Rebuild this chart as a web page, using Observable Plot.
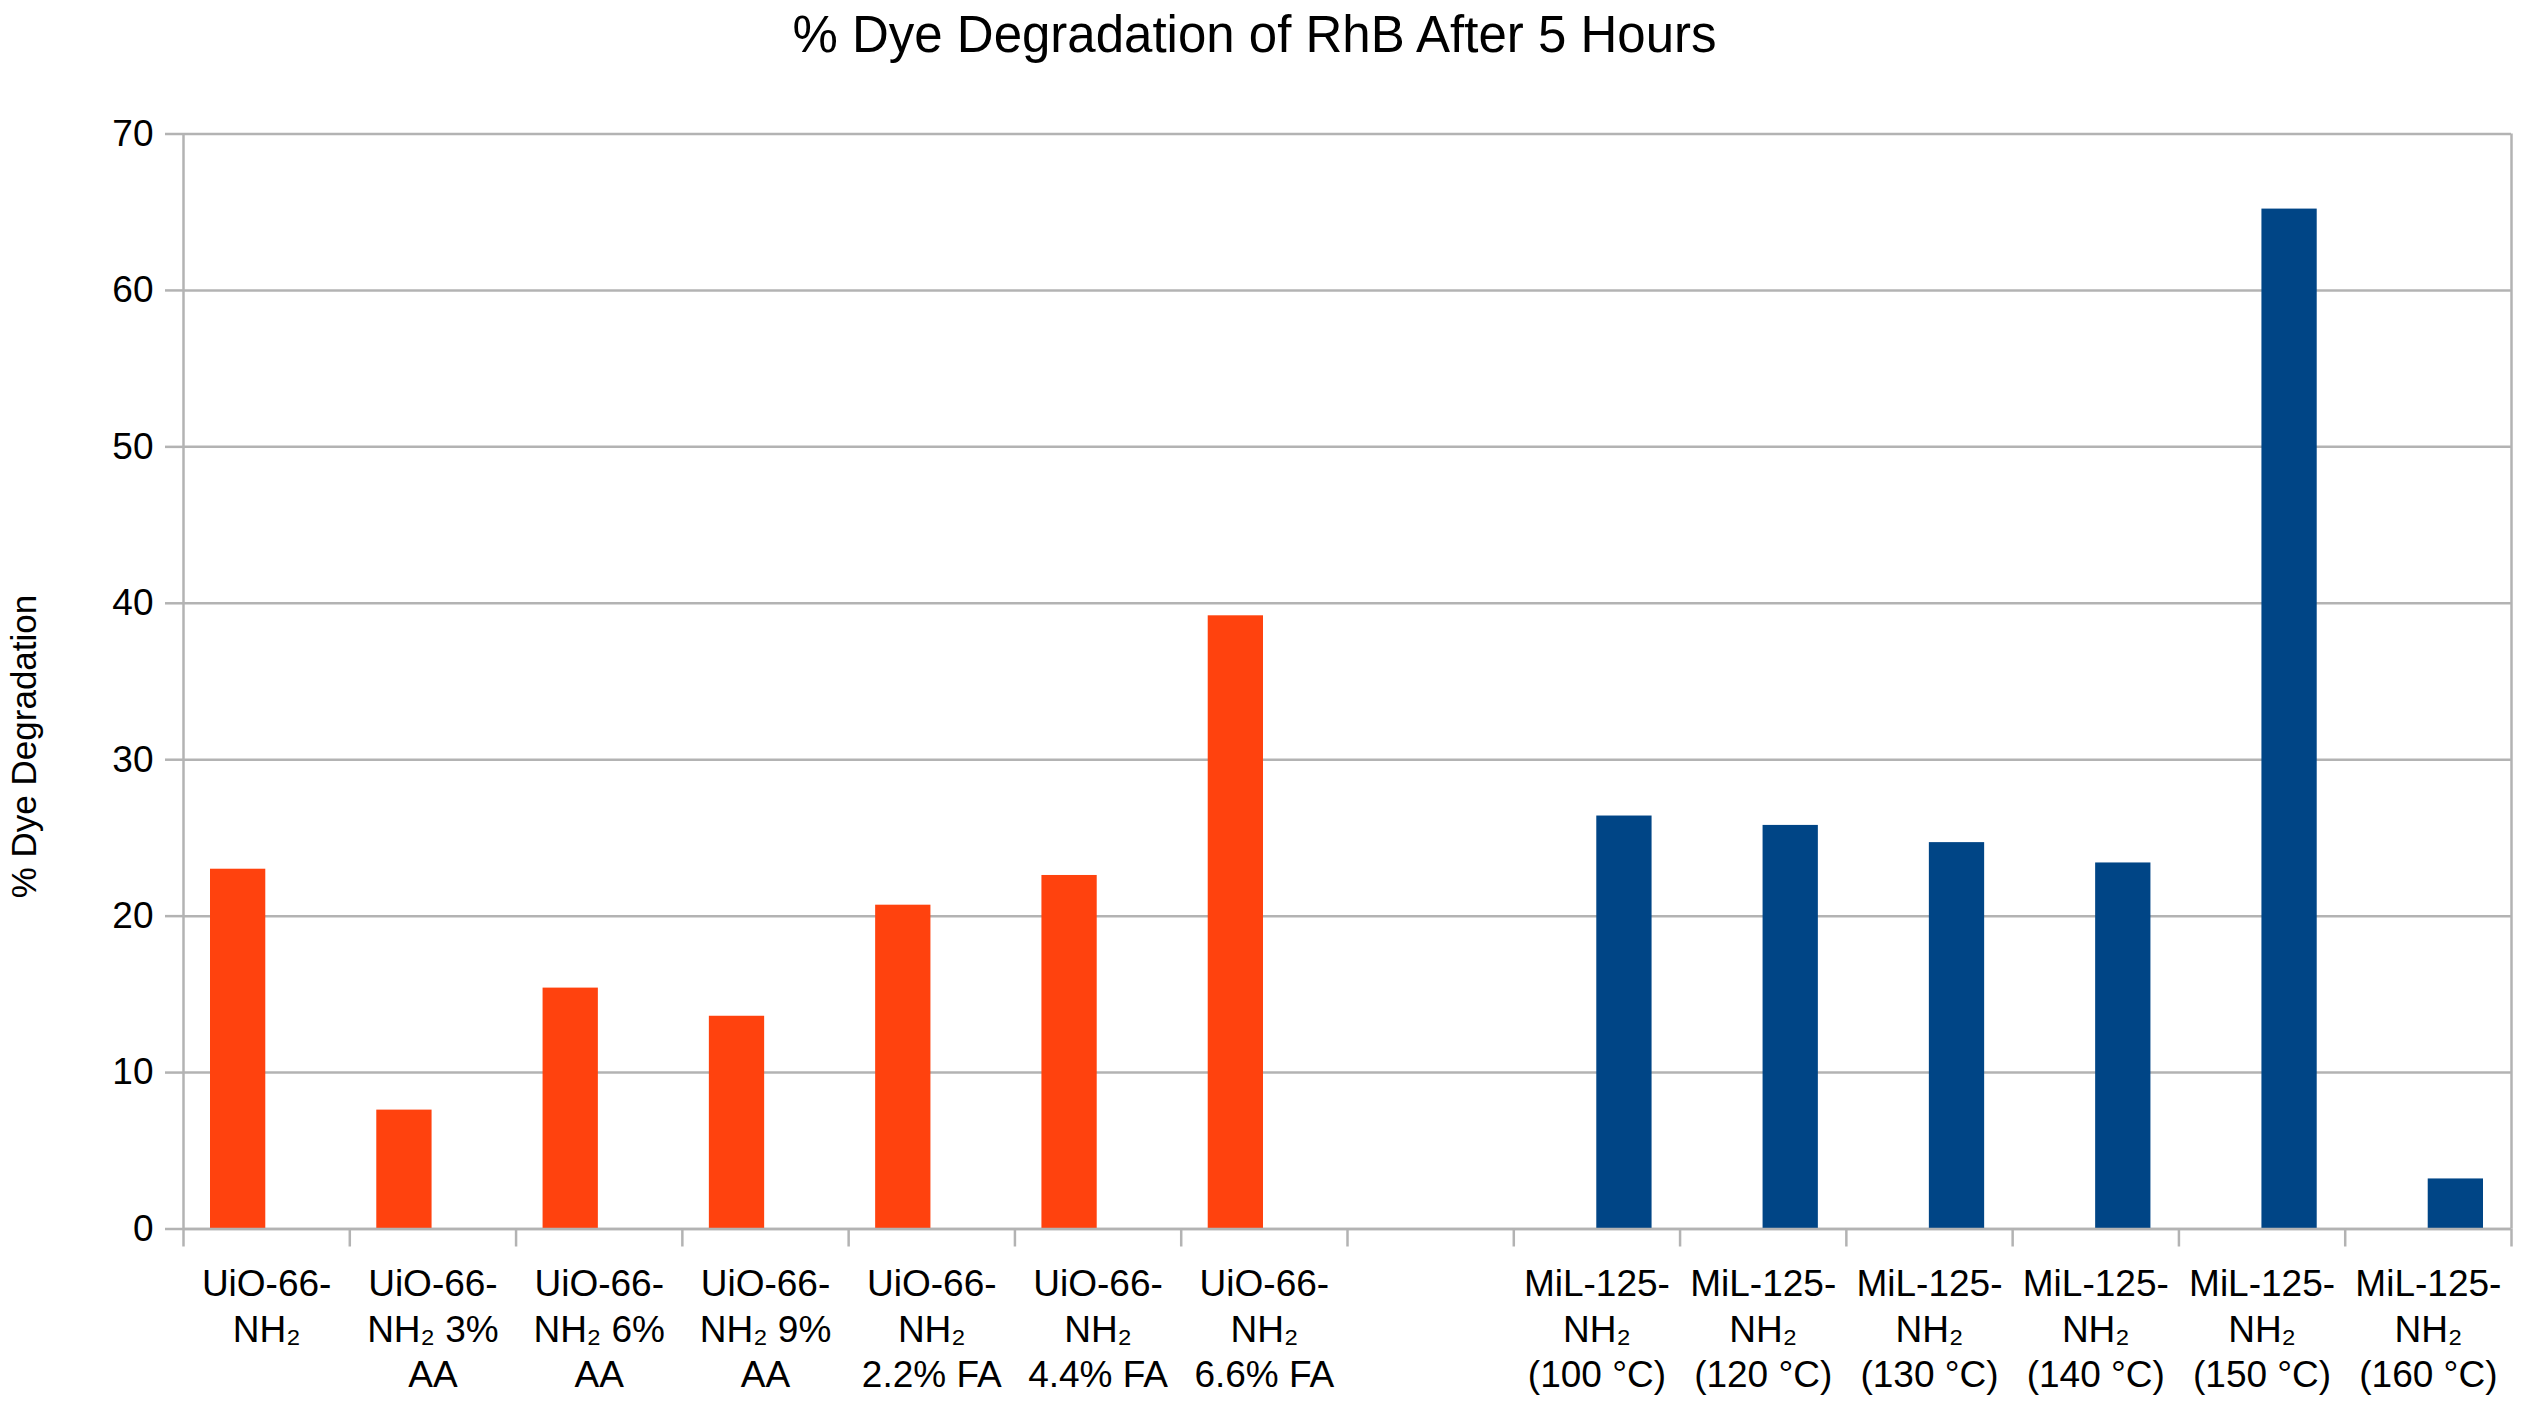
<!DOCTYPE html>
<html><head><meta charset="utf-8">
<script src="https://cdn.jsdelivr.net/npm/d3@7"></script>
<script src="https://cdn.jsdelivr.net/npm/@observablehq/plot@0.6"></script>
<style>
html,body{margin:0;padding:0;background:#fff;overflow:hidden;}
#title{font-family:"Liberation Sans",Arial,sans-serif;font-size:51px;height:70px;line-height:70px;text-align:center;color:#000;width:2509px;padding-right:12px;white-space:nowrap;}
</style></head><body>
<div id="title"></div>
<div id="chart"></div>
<script>
const title = "% Dye Degradation of RhB After 5 Hours";
const yLabel = "% Dye Degradation";
const categories = [
  "UiO-66-\nNH₂",
  "UiO-66-\nNH₂ 3%\nAA",
  "UiO-66-\nNH₂ 6%\nAA",
  "UiO-66-\nNH₂ 9%\nAA",
  "UiO-66-\nNH₂\n2.2% FA",
  "UiO-66-\nNH₂\n4.4% FA",
  "UiO-66-\nNH₂\n6.6% FA",
  "",
  "MiL-125-\nNH₂\n(100 °C)",
  "MiL-125-\nNH₂\n(120 °C)",
  "MiL-125-\nNH₂\n(130 °C)",
  "MiL-125-\nNH₂\n(140 °C)",
  "MiL-125-\nNH₂\n(150 °C)",
  "MiL-125-\nNH₂\n(160 °C)"
];
const seriesNames = ["UiO-66-NH₂", "MiL-125-NH₂"];
const uioValues = [23.0, 7.6, 15.4, 13.6, 20.7, 22.6, 39.2, null, null, null, null, null, null, null];
const milValues = [null, null, null, null, null, null, null, null, 26.4, 25.8, 24.7, 23.4, 65.2, 3.2];
const yTicks = [0, 10, 20, 30, 40, 50, 60, 70];
const seriesColors = ["#FF420E", "#004586"];

document.getElementById("title").textContent = title;

const uioRows = categories.map((c, i) => ({i, series: seriesNames[0], value: uioValues[i]})).filter(d => d.value != null);
const milRows = categories.map((c, i) => ({i, series: seriesNames[1], value: milValues[i]})).filter(d => d.value != null);

const gray = "#b3b3b3";
const W = 2521, H = 1406 - 70;

const chart = Plot.plot({
  width: W,
  height: H,
  marginTop: 63.5,
  marginBottom: 177.5,
  marginLeft: 183,
  marginRight: 10,
  style: {fontFamily: '"Liberation Sans", Arial, sans-serif', background: "#fff", color: "#000"},
  x: {domain: [0, categories.length]},
  y: {domain: [0, 70]},
  marks: [
    Plot.gridY(yTicks, {stroke: gray, strokeOpacity: 1, strokeWidth: 2.5}),
    Plot.rectY(uioRows, {x1: "i", x2: d => d.i + 1, y: "value", fill: seriesColors[0], insetLeft: 27, insetRight: 84}),
    Plot.rectY(milRows, {x1: "i", x2: d => d.i + 1, y: "value", fill: seriesColors[1], insetLeft: 83, insetRight: 28}),
    Plot.ruleY([0], {stroke: gray, strokeWidth: 2.5}),
    Plot.ruleX([0, categories.length], {stroke: gray, strokeWidth: 2.5}),
    Plot.axisY(yTicks, {tickSize: 18, tickPadding: 12, stroke: gray, strokeWidth: 2.5, fill: "#000", fontSize: 37, label: null}),
    Plot.axisX(d3.range(categories.length + 1), {tickSize: 18, tickFormat: () => "", stroke: gray, strokeWidth: 2.5, label: null}),
    Plot.axisX(d3.range(categories.length).map(i => i + 0.5), {tickSize: 0, tickPadding: 35, tickFormat: t => categories[Math.floor(t)], fontSize: 37, lineHeight: 1.23, fill: "#000", label: null}),
    Plot.text([yLabel], {frameAnchor: "left", textAnchor: "middle", rotate: -90, dx: -159, dy: 65, fontSize: 35, fill: "#000"})
  ]
});
document.getElementById("chart").appendChild(chart);
</script>
</body></html>
